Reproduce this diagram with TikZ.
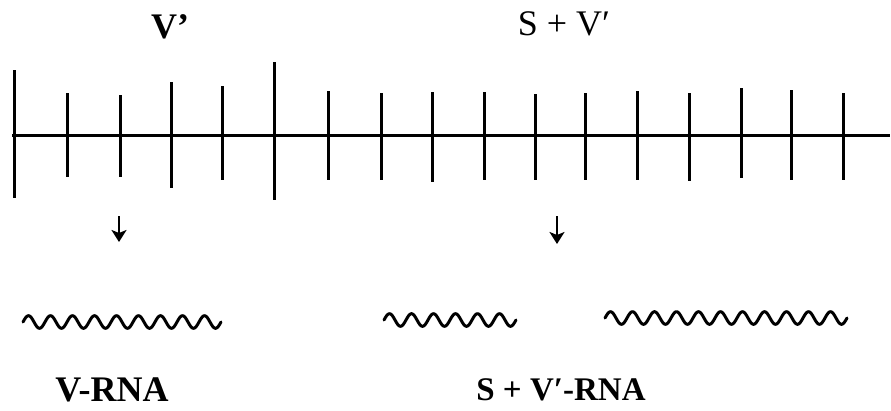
\documentclass[tikz,border=0pt]{standalone}
\usepackage{fontspec}
\setmainfont{Liberation Serif}
\usetikzlibrary{arrows.meta}
\begin{document}
\begin{tikzpicture}[x=1pt,y=-1pt,
  rail/.style={line width=3pt},
  tick/.style={line width=3pt},
  wave/.style={line width=3pt,line join=round,line cap=round},
  down/.style={line width=2.2pt,-{Stealth[length=12pt,width=15pt,inset=3pt]}},
  toplabel/.style={inner sep=0pt,font=\fontsize{36}{40}\selectfont},
  botlabel/.style={inner sep=0pt,font=\fontsize{36}{40}\selectfont\bfseries}]
\useasboundingbox (0,0) rectangle (891,410);
% main strand
\coordinate (L) at (12,135);
\coordinate (R) at (890,135);
\draw[rail] (L) -- (R);
% ticks
\foreach \x/\t/\b in {14/70/198,67/93/177,120/95/177,171/82/188,222/86/180,274/62/200,
  328/91/180,381/93/180,432/92/182,484/92/180,535/94/180,585/93/180,637/91/180,
  689/93/181,741/88/178,791/90/180,843/93/180}
  \draw[tick] (\x,\t) -- (\x,\b);
% labels top
\node[toplabel,font=\fontsize{36}{40}\selectfont\bfseries] (vtop) at (170,27) {V’};
\node[toplabel] (svtop) at (564,24) {S + V′};
% arrows
\coordinate (a1s) at (119,216);
\coordinate (a1e) at (119,242);
\coordinate (a2s) at (557,216);
\coordinate (a2e) at (557,244);
\draw[down] (a1s) -- (a1e);
\draw[down] (a2s) -- (a2e);
% RNA waves
\draw[wave] plot[domain=0:3240,samples=220] ({23+\x/360*22},{322-6.3*sin(\x)});
\draw[wave] plot[domain=0:2160,samples=150] ({384+\x/360*22},{320-6.3*sin(\x)});
\draw[wave] plot[domain=0:3960,samples=260] ({605+\x/360*22},{318-6.3*sin(\x)});
% labels bottom
\node[botlabel] (vrna) at (112,390) {V-RNA};
\node[botlabel,font=\fontsize{33}{38}\selectfont\bfseries] (svrna) at (561,390) {S + V′-RNA};
\end{tikzpicture}
\end{document}
